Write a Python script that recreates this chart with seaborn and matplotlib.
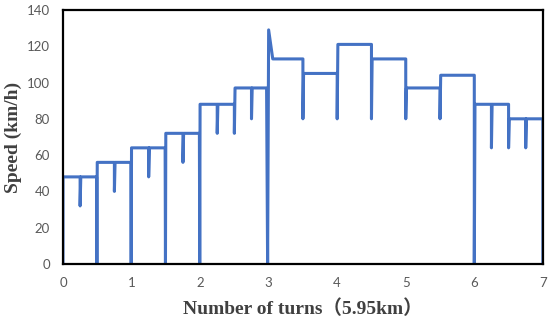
import matplotlib
matplotlib.use("Agg")
import matplotlib.pyplot as plt
import seaborn as sns
import pandas as pd

turns = [0, 0, 0.25, 0.25, 0.26, 0.49, 0.495, 0.5,
         0.75, 0.75, 0.76, 0.99, 0.995, 1.0,
         1.25, 1.25, 1.26, 1.49, 1.495, 1.5,
         1.75, 1.75, 1.76, 1.99, 1.995, 2.0,
         2.25, 2.25, 2.26, 2.5, 2.5, 2.51,
         2.75, 2.75, 2.76, 2.97, 2.985, 3.0, 3.06,
         3.5, 3.5, 3.51, 4.0, 4.0, 4.01, 4.5, 4.5, 4.51,
         5.0, 5.0, 5.01, 5.5, 5.5, 5.51,
         6.0, 6.0, 6.01, 6.25, 6.25, 6.26, 6.5, 6.5, 6.51,
         6.75, 6.75, 6.76, 7.0, 7.0]
speeds = [0, 48, 48, 32, 48, 48, 0, 56,
          56, 40, 56, 56, 0, 64,
          64, 48, 64, 64, 0, 72,
          72, 56, 72, 72, 0, 88,
          88, 72, 88, 88, 72, 97,
          97, 80, 97, 97, 0, 129, 113,
          113, 80, 105, 105, 80, 121, 121, 80, 113,
          113, 80, 97, 97, 80, 104,
          104, 0, 88, 88, 64, 88, 88, 64, 80,
          80, 64, 80, 80, 0]

x_ticks = [0, 1, 2, 3, 4, 5, 6, 7]
y_ticks = [0, 20, 40, 60, 80, 100, 120, 140]

df = pd.DataFrame({"turns": turns, "speed": speeds})

sns.set_style("white")
fig = plt.figure(figsize=(5.5, 3.2), dpi=100)
ax = fig.add_axes([0.1145, 0.175, 0.8725, 0.794])

sns.lineplot(data=df, x="turns", y="speed", sort=False, estimator=None,
             color="#4472C4", linewidth=2.2, ax=ax)

ax.set_xlim(0, 7)
ax.set_ylim(0, 140)
ax.set_xticks(x_ticks)
ax.set_yticks(y_ticks)
ax.tick_params(length=0, labelsize=9.5, labelcolor="#595959", pad=9.5)
for lab in ax.get_xticklabels() + ax.get_yticklabels():
    lab.set_family(["Lato", "DejaVu Sans"])

for s in ax.spines.values():
    s.set_visible(True)
    s.set_color("black")
    s.set_linewidth(1.6)

ax.set_xlabel("Number of turns（5.95km）", fontsize=14, fontweight="bold",
              color="#404040", family=["Liberation Serif", "Noto Sans CJK SC"])
ax.set_ylabel("Speed (km/h)", fontsize=14, fontweight="bold",
              color="#404040", family=["Liberation Serif", "Noto Sans CJK SC"])
ax.xaxis.set_label_coords(0.5, -0.138)
ax.yaxis.set_label_coords(-0.086, 0.5)

fig.savefig("out.png", dpi=100)
